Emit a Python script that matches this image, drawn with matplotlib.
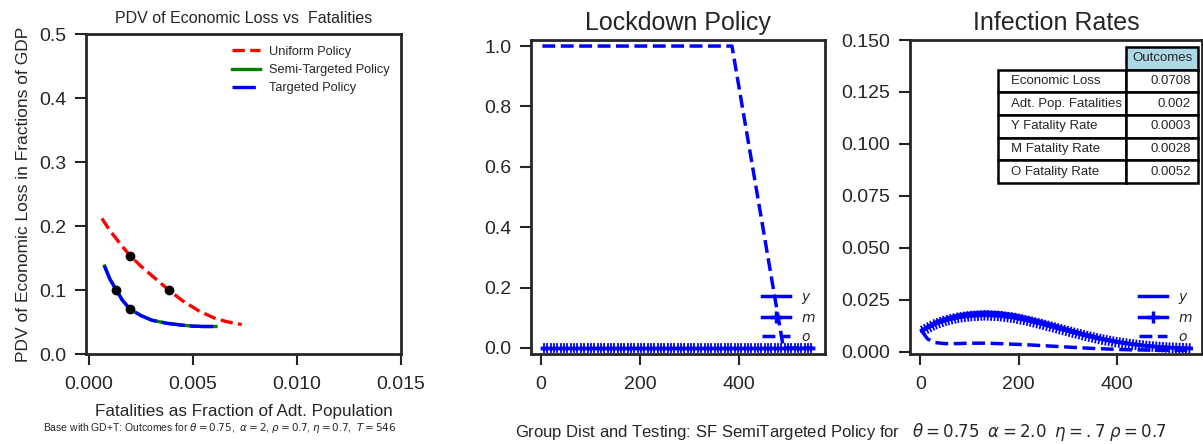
import numpy as np
import matplotlib
matplotlib.use('Agg')
import matplotlib.pyplot as plt
import matplotlib.patheffects as pe
from matplotlib.lines import Line2D

plt.rcParams.update({
    'font.family': ['Liberation Sans', 'DejaVu Sans'],
    'axes.edgecolor': '#262626',
    'axes.linewidth': 2.0,
    'xtick.color': '#262626',
    'ytick.color': '#262626',
    'xtick.major.size': 8,
    'ytick.major.size': 8,
    'xtick.major.width': 1.5,
    'ytick.major.width': 1.5,
    'xtick.major.pad': 8,
    'ytick.major.pad': 6,
    'xtick.labelsize': 14,
    'ytick.labelsize': 14,
    'text.color': '#262626',
    'axes.labelcolor': '#262626',
})

# --- frontera: pérdida económica vs fatalidades ---
unif_x = [0.00061, 0.0010, 0.0015, 0.00197, 0.0025, 0.0030, 0.00385, 0.0045, 0.0053, 0.0061, 0.0067, 0.00734]
unif_y = [0.212, 0.193, 0.172, 0.1536, 0.137, 0.123, 0.0995, 0.083, 0.067, 0.055, 0.050, 0.046]
targ_x = [0.00074, 0.0010, 0.00131, 0.00160, 0.00197, 0.0025, 0.0030, 0.00374, 0.0045, 0.0050, 0.0055, 0.0061]
targ_y = [0.1375, 0.117, 0.100, 0.084, 0.070, 0.060, 0.053, 0.048, 0.045, 0.0435, 0.043, 0.043]
unif_pts_x = [0.00197, 0.00385]
unif_pts_y = [0.1536, 0.0995]
targ_pts_x = [0.00131, 0.00197]
targ_pts_y = [0.100, 0.070]

# --- política de confinamiento ---
t_lock = [3, 550]
lock_y = [0.0, 0.0]
lock_m = [0.0, 0.0]
t_lock_o = [3, 386, 490, 550]
lock_o = [1.0, 1.0, 0.0, 0.0]

# --- tasas de infección ---
t_inf = [3, 15, 30, 50, 75, 100, 130, 160, 190, 220, 250, 280, 310, 340, 370, 400, 430, 460, 500, 550]
inf_y = [0.0105, 0.0122, 0.0142, 0.0160, 0.0176, 0.0186, 0.0191, 0.0188, 0.0178, 0.0162,
         0.0143, 0.0122, 0.0101, 0.0082, 0.0064, 0.0050, 0.0039, 0.0030, 0.0022, 0.0017]
inf_m = [0.0100, 0.0115, 0.0133, 0.0150, 0.0164, 0.0172, 0.0176, 0.0173, 0.0164, 0.0149,
         0.0131, 0.0112, 0.0093, 0.0075, 0.0059, 0.0046, 0.0036, 0.0028, 0.0021, 0.0016]
inf_o = [0.0100, 0.0062, 0.0045, 0.0040, 0.0040, 0.0042, 0.0042, 0.0040, 0.0037, 0.0034,
         0.0030, 0.0026, 0.0022, 0.0018, 0.0015, 0.0012, 0.0010, 0.0009, 0.0008, 0.0007]

tabla_filas = ['Economic Loss', 'Adt. Pop. Fatalities', 'Y Fatality Rate', 'M Fatality Rate', 'O Fatality Rate']
tabla_vals = ['0.0708', '0.002', '0.0003', '0.0028', '0.0052']

fig = plt.figure(figsize=(12.03, 4.44), dpi=100)
ax1 = fig.add_axes([0.0715, 0.2027, 0.2618, 0.7203])
ax2 = fig.add_axes([0.4414, 0.2027, 0.2444, 0.7072])
ax3 = fig.add_axes([0.7564, 0.2027, 0.2428, 0.7072])

# panel izquierdo
ax1.plot(unif_x, unif_y, color='red', ls='--', lw=2.4, label='Uniform Policy')
ax1.plot(targ_x, targ_y, color='green', ls='-', lw=2.4, label='Semi-Targeted Policy')
ax1.plot(targ_x, targ_y, color='blue', ls=(0, (7, 1.5)), lw=2.4, label='Targeted Policy')
ax1.plot(unif_pts_x + targ_pts_x, unif_pts_y + targ_pts_y, 'o', color='black', ms=6, zorder=5)
ax1.set_xlim(-0.00015, 0.015)
ax1.set_ylim(0, 0.5)
ax1.set_xticks([0, 0.005, 0.010, 0.015])
ax1.set_xticklabels(['0.000', '0.005', '0.010', '0.015'])
ax1.set_yticks([0, 0.1, 0.2, 0.3, 0.4, 0.5])
ax1.set_title('PDV of Economic Loss vs  Fatalities', fontsize=11.5, pad=8)
ax1.set_xlabel('Fatalities as Fraction of Adt. Population', fontsize=12.3, labelpad=8)
ax1.set_ylabel('PDV of Economic Loss in Fractions of GDP', fontsize=12.5, labelpad=6)
ax1.legend(loc='upper right', frameon=False, fontsize=9.2, handlelength=2.2,
           handletextpad=0.7, borderaxespad=0.5, labelspacing=0.5)
ax1.text(0.424, -0.232, r'Base with GD+T: Outcomes for $\theta=0.75$,  $\alpha=2$, $\rho=0.7$, $\eta=0.7$,  $T=546$',
         transform=ax1.transAxes, ha='center', va='center', fontsize=7.5)

tick_m = [pe.Normal(),
          pe.TickedStroke(spacing=2.4, angle=90, length=1.3, linewidth=1.3),
          pe.TickedStroke(spacing=2.4, angle=-90, length=1.3, linewidth=1.3)]

handles = [Line2D([], [], color='blue', lw=2.5, ls='-'),
           Line2D([], [], color='blue', lw=2.5, ls='-', marker='+', ms=9, mew=2.5),
           Line2D([], [], color='blue', lw=2.5, ls='--')]
labels = ['$y$', '$m$', '$o$']

# panel central
ax2.plot(t_lock, lock_y, color='blue', lw=2.5)
ax2.plot(t_lock, lock_m, color='blue', lw=2.5, path_effects=tick_m)
ax2.plot(t_lock_o, lock_o, color='blue', lw=2.5, ls='--')
ax2.set_xlim(-20, 574)
ax2.set_ylim(-0.02, 1.02)
ax2.set_xticks([0, 200, 400])
ax2.set_yticks([0, 0.2, 0.4, 0.6, 0.8, 1.0])
ax2.set_title('Lockdown Policy', fontsize=18, pad=7)
ax2.legend(handles, labels, loc='lower right', frameon=False, fontsize=10,
           handlelength=2.0, borderaxespad=0.3, labelspacing=0.38)

# panel derecho
ax3.plot(t_inf, inf_y, color='blue', lw=2.5)
ax3.plot(t_inf, inf_m, color='blue', lw=2.5, path_effects=tick_m)
ax3.plot(t_inf, inf_o, color='blue', lw=2.5, ls='--')
ax3.set_xlim(-21, 572)
ax3.set_ylim(-0.001, 0.15)
ax3.set_xticks([0, 200, 400])
ax3.set_yticks([0, 0.025, 0.05, 0.075, 0.1, 0.125, 0.15])
ax3.set_yticklabels(['0.000', '0.025', '0.050', '0.075', '0.100', '0.125', '0.150'])
ax3.set_title('Infection Rates', fontsize=18, pad=7)
ax3.legend(handles, labels, loc='lower right', frameon=False, fontsize=10,
           handlelength=2.0, borderaxespad=0.3, labelspacing=0.38)

celdas = [[f, v] for f, v in zip(tabla_filas, tabla_vals)]
tab = ax3.table(cellText=celdas, colLabels=['', 'Outcomes'], colWidths=[0.44, 0.245],
                bbox=[0.301, 0.545, 0.685, 0.433])
tab.auto_set_font_size(False)
tab.set_fontsize(9.5)
for (r, c), cell in tab.get_celld().items():
    cell.set_edgecolor('black')
    cell.set_linewidth(1.8)
    if r == 0 and c == 0:
        cell.set_visible(False)
    elif r == 0:
        cell.set_facecolor('lightblue')
        cell.get_text().set_ha('center')
    elif c == 0:
        cell.get_text().set_ha('left')
    else:
        cell.get_text().set_ha('right')

fig.text(0.699, 0.027, r'Group Dist and Testing: SF SemiTargeted Policy for   $\theta=0.75$  $\alpha=2.0$  $\eta=.7$ $\rho=0.7$',
         ha='center', va='center', fontsize=12)

fig.savefig('out.png', dpi=100)
